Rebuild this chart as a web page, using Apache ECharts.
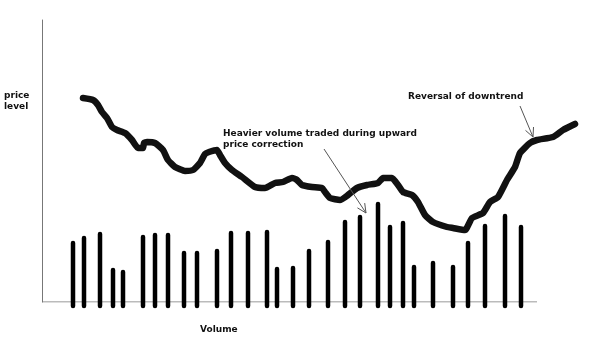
<!DOCTYPE html>
<html><head><meta charset="utf-8">
<script src="https://cdn.jsdelivr.net/npm/echarts@6/dist/echarts.min.js"></script>
<style>html,body{margin:0;padding:0;background:#fff}#c{width:599px;height:341px}</style>
</head><body><div id="c"></div>
<script>
// price path (time, price level)
const priceTime  = [41,51,56,60,65,70,75,83,90,96,101,102,105,113,121,126,133,143,151,158,163,167,175,178,183,190,200,213,223,233,241,250,255,260,270,280,283,288,298,306,315,325,336,341,350,356,361,370,376,383,391,405,411,423,430,441,448,456,465,473,478,488,495,511,521,533];
const priceLevel = [204,202,197,190,184,175,172,169,162,154,154,159,160,159,152,142,135,131,132,139,148,150,152,147,139,132,125,115,114,119,120,124,122,117,115,114,110,104,102,107,114,117,119,124,124,117,110,107,100,87,80,75,74,72,84,89,100,105,122,135,149,159,162,165,172,178];
// volume bars (time, volume)
const volumeTime   = [31,42,58,71,81,101,113,126,142,155,175,189,206,225,235,251,267,286,303,318,336,348,361,372,391,411,426,443,463,479];
const volumeValues = [59,64,68,32,30,65,67,67,49,49,51,69,69,70,33,34,51,60,80,85,98,75,79,35,39,35,59,76,86,75];
// time axis extent drawn as the baseline
const timeAxisEnd = 495;
// texts
const yTitle = ['price', 'level'];
const xTitle = 'Volume';
const note1 = ['Heavier volume traded during upward', 'price correction'];
const note2 = 'Reversal of downtrend';
// annotation arrows in data units: [fromTime, fromLevel, toTime, toLevel]
const arrow1 = [282, 153, 324, 89];
const arrow2 = [478, 196, 491, 165];

const chart = echarts.init(document.getElementById('c'), null, {renderer: 'canvas'});
const font = '"DejaVu Sans", sans-serif';
chart.setOption({
  animation: false,
  backgroundColor: '#fff',
  grid: {left: 42, top: 20, width: 545, height: 282},
  xAxis: {type: 'value', min: 0, max: 545, axisLine: {show: false},
    axisTick: {show: false}, axisLabel: {show: false}, splitLine: {show: false}},
  yAxis: {type: 'value', min: 0, max: 282, axisLine: {show: true, lineStyle: {color: '#777', width: 1}},
    axisTick: {show: false}, axisLabel: {show: false}, splitLine: {show: false}},
  series: [
    {
      type: 'line',
      data: [[0, 0], [timeAxisEnd, 0]],
      symbol: 'none', silent: true,
      lineStyle: {color: '#777', width: 1}, z: 1
    },
    {
      type: 'custom',
      data: volumeTime.map((t, i) => [t, volumeValues[i]]),
      renderItem: function (params, api) {
        const top = api.coord([api.value(0), api.value(1)]);
        const base = api.coord([api.value(0), 0]);
        return {type: 'line', shape: {x1: base[0], y1: base[1] + 4, x2: top[0], y2: top[1]},
          style: {stroke: '#000', lineWidth: 4.5, lineCap: 'round'}};
      },
      clip: false, z: 2
    },
    {
      type: 'line',
      data: priceTime.map((t, i) => [t, priceLevel[i]]),
      symbol: 'none', smooth: 0.15, clip: false,
      lineStyle: {color: '#111', width: 6.5, cap: 'round', join: 'round'}, z: 3
    }
  ]
});

function arrowGraphic(a) {
  const p1 = chart.convertToPixel({gridIndex: 0}, [a[0], a[1]]);
  const p2 = chart.convertToPixel({gridIndex: 0}, [a[2], a[3]]);
  const ang = Math.atan2(p2[1] - p1[1], p2[0] - p1[0]);
  const L = 10, w = 0.45;
  const h1 = [p2[0] - L * Math.cos(ang - w), p2[1] - L * Math.sin(ang - w)];
  const h2 = [p2[0] - L * Math.cos(ang + w), p2[1] - L * Math.sin(ang + w)];
  return [
    {type: 'line', shape: {x1: p1[0], y1: p1[1], x2: p2[0], y2: p2[1]}, style: {stroke: '#555', lineWidth: 1}, z: 10},
    {type: 'polyline', shape: {points: [h1, p2, h2]}, style: {stroke: '#555', lineWidth: 1, fill: null}, z: 10}
  ];
}
const txt = (s, x, y, align) => ({type: 'text', left: x, top: y,
  style: {text: s, font: 'bold 9px ' + font, fill: '#111', textAlign: align || 'left'}, z: 10});

chart.setOption({
  graphic: [
    txt(yTitle[0], 4, 91), txt(yTitle[1], 4, 102),
    txt(xTitle, 200, 325),
    txt(note1[0], 223, 129), txt(note1[1], 223, 140),
    txt(note2, 408, 92),
    ...arrowGraphic(arrow1), ...arrowGraphic(arrow2)
  ]
});
</script></body></html>
